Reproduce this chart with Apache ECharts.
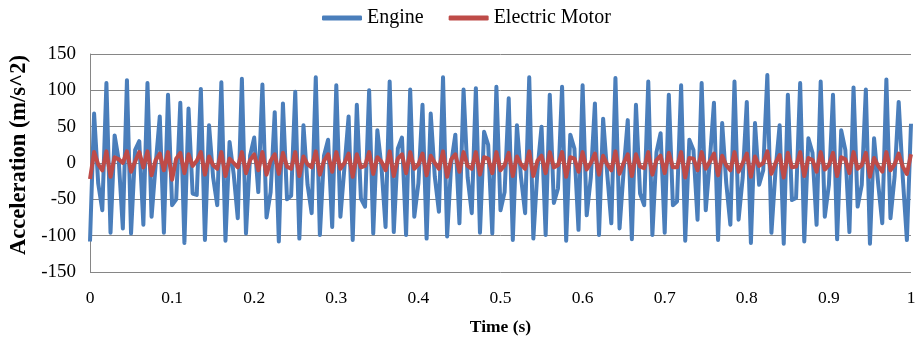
<!DOCTYPE html>
<html>
<head>
<meta charset="utf-8">
<script src="https://cdn.jsdelivr.net/npm/echarts@6/dist/echarts.min.js"></script>
<style>
html, body { margin: 0; padding: 0; background: #fff; }
#main { width: 919px; height: 338px; }
</style>
</head>
<body>
<div id="main"></div>
<script>
// sample step of the recording (s)
var dt = 0.005;

// engine acceleration, one value per sample
var engine = [
  -108, 68, -28, -65, 110, -96, 38, 4, -90, 114,
  -97, 18, 30, -85, 110, -74, -2, 64, -96, 94,
  -58, -50, 83, -110, 75, -42, -44, 102, -106, 52,
  -20, -58, 111, -107, 29, -15, -76, 116, -97, 10,
  35, -40, 108, -75, -40, 70, -108, 82, -50, -45,
  98, -104, 52, -30, -69, 118, -99, 10, 32, -88,
  107, -74, -5, 64, -106, 80, -49, -60, 100, -97,
  45, -5, -88, 112, -95, 20, 35, -99, 101, -74,
  -28, 80, -104, 68, -19, -67, 118, -101, 0, 39,
  -83, 101, -20, -69, 103, -96, 43, 25, -97, 105,
  -65, -40, 89, -106, 52, -20, -69, 118, -104, -10,
  50, -99, 94, -55, -35, 105, -107, 39, 20, -92,
  107, -72, -20, 82, -99, 61, -15, -83, 117, -90,
  -10, 59, -105, 80, -42, -58, 112, -99, 15, 41,
  -96, 94, -58, -53, 107, -107, 32, 18, -78, 110,
  -65, 4, 83, -106, 55, -28, -85, 112, -78, -20,
  84, -110, 55, -30, -10, 121, -96, -10, 52, -111,
  94, -51, -48, 110, -108, 34, 14, -85, 112, -74,
  -30, 94, -105, 45, 18, -95, 104, -60, -30, 101,
  -111, 34, -28, -83, 115, -76, -19, 84, -20, -106,
  54
];

// electric motor acceleration, one value per sample
var motor = [
  -22, 15, -2, -10, 16, -19, 8, 5, 0, 16,
  -12, 2, 15, -6, 16, -17, 4, 13, -10, 15,
  -23, 6, 14, -14, 12, -4, 3, 15, -16, 9,
  -3, -8, 15, -18, 6, 0, -6, 15, -14, 4,
  12, -10, 15, -16, 3, 12, -15, 14, -5, -8,
  15, -18, 9, -2, -6, 16, -16, 3, 12, -12,
  15, -8, 0, 13, -19, 12, -6, -4, 15, -15,
  8, 2, -10, 16, -18, 6, 12, -14, 15, -8,
  -2, 13, -17, 10, 0, -8, 16, -19, 5, 12,
  -12, 15, -4, -8, 15, -16, 8, 6, -14, 15,
  -10, -3, 14, -18, 9, -2, -8, 16, -18, 3,
  10, -14, 15, -6, -3, 15, -19, 8, 6, -12,
  15, -9, 0, 13, -16, 10, -2, -10, 16, -15,
  0, 12, -18, 12, -5, -7, 15, -16, 4, 10,
  -14, 14, -6, -6, 15, -20, 7, 6, -10, 15,
  -8, 2, 13, -17, 10, -3, -10, 15, -12, 0,
  13, -19, 9, -4, 0, 16, -15, 0, 11, -20,
  14, -6, -5, 15, -18, 7, 4, -12, 15, -9,
  -3, 14, -18, 8, 5, -14, 15, -8, -3, 14,
  -19, 7, -4, -12, 15, -10, -2, 13, -5, -15,
  12
];

function pairs(values) {
  return values.map(function (v, i) { return [i * dt, v]; });
}

var chart = echarts.init(document.getElementById('main'));
var serif = '"Liberation Serif", "Times New Roman", serif';

chart.setOption({
  animation: false,
  textStyle: { fontFamily: serif },
  legend: {
    top: 3,
    left: 317,
    itemWidth: 40,
    itemHeight: 5,
    itemGap: 25,
    icon: 'roundRect',
    textStyle: { fontFamily: serif, fontSize: 20, color: '#000' },
    data: ['Engine', 'Electric Motor']
  },
  grid: { left: 90, right: 8, top: 54, bottom: 66, outerBoundsMode: 'none' },
  xAxis: {
    type: 'value',
    min: 0,
    max: 1,
    interval: 0.1,
    name: 'Time (s)',
    nameLocation: 'middle',
    nameGap: 46,
    nameTextStyle: { fontFamily: serif, fontSize: 17.5, fontWeight: 'bold', color: '#000' },
    axisLine: { show: false },
    axisTick: { show: false },
    axisLabel: { fontFamily: serif, fontSize: 17.5, color: '#000', margin: 17 },
    splitLine: { show: false }
  },
  yAxis: {
    type: 'value',
    min: -150,
    max: 150,
    interval: 50,
    name: 'Acceleration (m/s^2)',
    nameLocation: 'middle',
    nameGap: 59,
    nameTextStyle: {
      fontFamily: serif, fontSize: 22.5, fontWeight: 'bold', color: '#000',
      padding: [0, 0, 0, 16]
    },
    axisLine: { show: true, lineStyle: { color: '#868686', width: 1 } },
    axisTick: { show: false },
    axisLabel: { fontFamily: serif, fontSize: 19, color: '#000', margin: 14 },
    splitLine: { show: true, lineStyle: { color: '#868686', width: 1 } }
  },
  series: [
    {
      name: 'Engine',
      type: 'line',
      data: pairs(engine),
      showSymbol: false,
      itemStyle: { color: '#4A7EBB' },
      lineStyle: { color: '#4A7EBB', width: 4, join: 'round' }
    },
    {
      name: 'Electric Motor',
      type: 'line',
      data: pairs(motor),
      showSymbol: false,
      itemStyle: { color: '#BE4B48' },
      lineStyle: { color: '#BE4B48', width: 4, join: 'round' }
    }
  ]
});
</script>
</body>
</html>
